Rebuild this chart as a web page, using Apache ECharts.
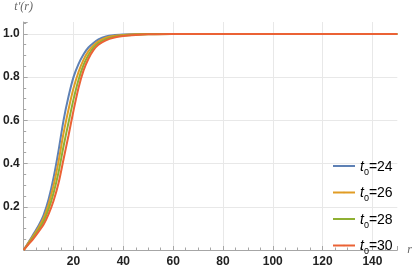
<!DOCTYPE html>
<html><head><meta charset="utf-8">
<script src="https://cdn.jsdelivr.net/npm/echarts@6/dist/echarts.min.js"></script>
<style>html,body{margin:0;padding:0;background:#fff}#c{width:415px;height:269px}</style>
</head><body><div id="c"></div>
<script>
// r samples
var rValues = [0, 2, 4, 6, 8, 10, 12, 14, 16, 18, 20, 22, 24, 26, 28, 30, 33, 36, 40, 45, 50, 60, 70, 80, 90, 100, 110, 120, 130, 140, 150];
// t'(r) for each t0
var t24 = [0, 0.037, 0.075, 0.113, 0.162, 0.235, 0.335, 0.46, 0.60, 0.71, 0.80, 0.86, 0.905, 0.937, 0.958, 0.974, 0.988, 0.994, 0.997, 0.999, 0.9995, 1, 1, 1, 1, 1, 1, 1, 1, 1, 1];
var t26 = [0, 0.034, 0.068, 0.104, 0.147, 0.212, 0.299, 0.41, 0.54, 0.65, 0.748, 0.823, 0.88, 0.92, 0.947, 0.966, 0.982, 0.99, 0.995, 0.998, 0.999, 1, 1, 1, 1, 1, 1, 1, 1, 1, 1];
var t28 = [0, 0.030, 0.061, 0.094, 0.133, 0.189, 0.264, 0.36, 0.48, 0.59, 0.697, 0.787, 0.855, 0.902, 0.936, 0.958, 0.976, 0.986, 0.992, 0.996, 0.9985, 0.9998, 1, 1, 1, 1, 1, 1, 1, 1, 1];
var t30 = [0, 0.027, 0.054, 0.085, 0.118, 0.166, 0.228, 0.31, 0.42, 0.53, 0.645, 0.75, 0.83, 0.885, 0.925, 0.95, 0.97, 0.982, 0.99, 0.995, 0.998, 0.9995, 1, 1, 1, 1, 1, 1, 1, 1, 1];
var seriesNames = ['24', '26', '28', '30'];
var seriesValues = [t24, t26, t28, t30];
var colors = ['#5E81B5', '#E19C24', '#8FB032', '#EB6235'];

var chart = echarts.init(document.getElementById('c'));
var series = seriesNames.map(function (n, i) {
  return {
    name: n, type: 'line', symbol: 'none', smooth: 0.3,
    lineStyle: { width: 2, color: colors[i] }, itemStyle: { color: colors[i] },
    data: rValues.map(function (r, k) { return [r, seriesValues[i][k]]; })
  };
});
var axisCol = '#a6a6a6';
chart.setOption({
  animation: false,
  grid: { left: 18.5, right: 16.5, top: 22, bottom: 19 },
  legend: {
    orient: 'vertical', left: 327, top: 155, itemWidth: 22, itemHeight: 2, itemGap: 9.5,
    data: seriesNames,
    formatter: function (n) { return '{i|t}{s|0}{n|=' + n + '}'; },
    textStyle: {
      rich: {
        i: { fontFamily: 'Liberation Sans', fontStyle: 'italic', fontSize: 14, color: '#000', lineHeight: 16, verticalAlign: 'bottom' },
        s: { fontFamily: 'Liberation Sans', fontSize: 9, color: '#000', lineHeight: 16, verticalAlign: 'bottom', padding: [0, 0, -3, 0] },
        n: { fontFamily: 'Liberation Sans', fontSize: 14, color: '#000', lineHeight: 16, verticalAlign: 'bottom' }
      }
    }
  },
  xAxis: {
    type: 'value', min: 0, max: 150, interval: 20,
    name: 'r', nameLocation: 'end', nameGap: 10,
    nameTextStyle: { fontFamily: 'Liberation Serif', fontStyle: 'italic', fontSize: 12, color: '#666', verticalAlign: 'middle' },
    axisLine: { show: true, onZero: false, lineStyle: { color: axisCol, width: 1 } },
    axisTick: { show: true, inside: true, length: 4, lineStyle: { color: axisCol } },
    minorTick: { show: true, splitNumber: 4, length: 2.5, lineStyle: { color: axisCol } },
    axisLabel: { showMinLabel: false, showMaxLabel: false, fontFamily: 'Liberation Sans', fontWeight: 'bold', fontSize: 12, color: '#222', margin: 6 },
    splitLine: { show: true, showMinLine: false, showMaxLine: false, lineStyle: { color: '#e8e8e8', width: 1 } }
  },
  yAxis: {
    type: 'value', min: 0, max: 1.055, interval: 0.2,
    name: 't\u2032(r)', nameLocation: 'end', nameGap: 9,
    nameTextStyle: { fontFamily: 'Liberation Serif', fontStyle: 'italic', fontSize: 12, color: '#666', align: 'center' },
    axisLine: { show: true, onZero: false, lineStyle: { color: axisCol, width: 1 } },
    axisTick: { show: true, inside: true, length: 4, lineStyle: { color: axisCol } },
    minorTick: { show: true, splitNumber: 4, length: 2.5, lineStyle: { color: axisCol } },
    axisLabel: {
      showMinLabel: false, showMaxLabel: false, fontFamily: 'Liberation Sans', fontWeight: 'bold', fontSize: 12, color: '#222', margin: 4,
      formatter: function (v) { return v.toFixed(1); }
    },
    splitLine: { show: true, showMinLine: false, showMaxLine: false, lineStyle: { color: '#e8e8e8', width: 1 } }
  },
  series: series
});
</script></body></html>
